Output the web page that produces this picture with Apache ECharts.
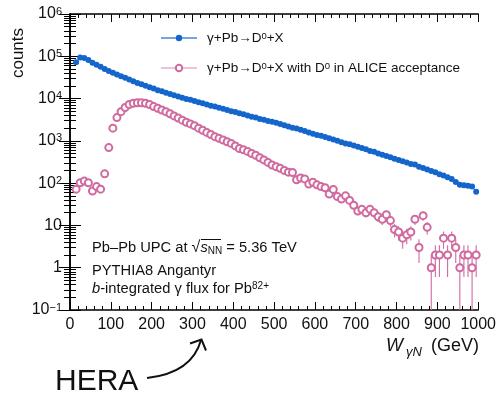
<!DOCTYPE html>
<html>
<head>
<meta charset="utf-8">
<script src="https://cdn.jsdelivr.net/npm/echarts@6/dist/echarts.min.js"></script>
<style>
html, body { margin: 0; padding: 0; background: #fff; }
#chart { width: 499px; height: 394px; }
</style>
</head>
<body>
<div id="chart"></div>
<script>
// W_gammaN bin centres (GeV), 10 GeV bins
const wCenters = [15, 25, 35, 45, 55, 65, 75, 85, 95, 105, 115, 125, 135, 145, 155, 165, 175, 185, 195,
  205, 215, 225, 235, 245, 255, 265, 275, 285, 295, 305, 315, 325, 335, 345, 355, 365, 375, 385, 395,
  405, 415, 425, 435, 445, 455, 465, 475, 485, 495, 505, 515, 525, 535, 545, 555, 565, 575, 585, 595,
  605, 615, 625, 635, 645, 655, 665, 675, 685, 695, 705, 715, 725, 735, 745, 755, 765, 775, 785, 795,
  805, 815, 825, 835, 845, 855, 865, 875, 885, 895, 905, 915, 925, 935, 945, 955, 965, 975, 985, 995];

// gamma+Pb -> D0+X, all D0
const blueCounts = [72400, 93300, 91200, 81300, 70800, 63100, 56200, 50100, 44700, 40700, 37200, 33900,
  30900, 28200, 25700, 23400, 21900, 20000, 18600, 17400, 15800, 14800, 13800, 12900, 12000, 11200,
  10500, 9770, 9330, 8710, 8130, 7760, 7240, 6760, 6460, 6030, 5750, 5370, 5010, 4790, 4470, 4270,
  3980, 3720, 3550, 3310, 3160, 2950, 2820, 2690, 2510, 2340, 2190, 2040, 1950, 1820, 1700, 1580,
  1480, 1380, 1320, 1230, 1150, 1070, 1000, 933, 871, 832, 776, 724, 676, 631, 575, 550, 501, 468,
  437, 407, 380, 355, 331, 309, 282, 275, 245, 229, 209, 195, 182, 162, 151, 138, 126, 107, 91, 89,
  87, 83, 63];

// gamma+Pb -> D0+X with the D0 inside the ALICE acceptance
const pinkCounts = [72, 102, 112, 102, 65, 83, 72, 166, 692, 1995, 3548, 4898, 6166, 7244, 7762, 7943,
  7943, 7762, 7244, 6457, 5888, 5370, 4898, 4365, 3890, 3467, 3090, 2754, 2512, 2291, 1995, 1778,
  1585, 1413, 1259, 1148, 1047, 955, 871, 759, 661, 617, 562, 501, 457, 398, 355, 309, 269, 245, 224,
  200, 182, 178, 120, 132, 126, 95, 105, 91, 83, 78, 55, 71, 48, 42, 50, 39, 30, 22, 24, 20, 24, 20,
  16, 14, 18, 13, 8, 7, 5, 6, 7, 14, 3, 17, 9, 1, 2, 2, 5, 2, 5, 3, 1, 2, 2, 1, 2];

// statistical uncertainty of each acceptance bin
const pinkErr = [8.5, 10.1, 10.6, 10.1, 8.1, 9.1, 8.5, 12.9, 26.3, 44.7, 59.6, 70.0, 78.5, 85.1, 88.1,
  89.1, 89.1, 88.1, 85.1, 80.4, 76.7, 73.3, 70.0, 66.1, 62.4, 58.9, 55.6, 52.5, 50.1, 47.9, 44.7, 42.2,
  39.8, 37.6, 35.5, 33.9, 32.4, 30.9, 29.5, 27.5, 25.7, 24.8, 23.7, 22.4, 21.4, 19.9, 18.8, 17.6, 16.4,
  15.7, 15.0, 14.1, 13.5, 13.3, 11.0, 11.5, 11.2, 9.7, 10.2, 9.5, 9.1, 8.8, 7.4, 8.4, 6.9, 6.5, 7.1,
  6.2, 5.5, 4.7, 4.9, 4.5, 4.9, 4.5, 4.0, 3.7, 4.2, 3.6, 2.8, 2.6, 2.2, 2.4, 2.6, 3.7, 1.7, 4.1, 3.0,
  1.0, 1.4, 1.4, 2.2, 1.4, 2.2, 1.7, 1.0, 1.4, 1.4, 1.0, 1.4];

const xTicks = { min: 0, max: 1000, step: 100, minorStep: 20 };
const yRange = { min: 0.1, max: 1e6 };

const NAME_ALL = 'γ+Pb→D⁰+X';
const NAME_ACC = 'γ+Pb→D⁰+X with D⁰ in ALICE acceptance';

const FONT = '"Liberation Sans", Arial, Helvetica, sans-serif';
const BLUE = '#1466cc';
const BLUE_LINE = '#70a8dc';
const PINK = '#d06a9f';
const PINK_LINE = '#d98ab6';

const bluePts = wCenters.map((w, i) => [w, blueCounts[i]]);
const pinkPts = wCenters.map((w, i) => [w, pinkCounts[i]]);
const pinkBars = wCenters.map((w, i) => [w, pinkCounts[i], pinkErr[i]]);

// log-axis minor tick values: 2..9 x 10^k
const minorYValues = [];
for (let k = -1; k < 6; k++) {
  for (let m = 2; m < 10; m++) minorYValues.push(m * Math.pow(10, k));
}

function renderErrorBar(params, api) {
  const x = api.value(0), v = api.value(1), e = api.value(2);
  const c = api.coord([x, v]);
  const top = api.coord([x, yRange.max])[1];
  const bot = api.coord([x, yRange.min])[1];
  const yHi = Math.max(api.coord([x, v + e])[1], top);
  const yLo = v - e > 0 ? Math.min(api.coord([x, v - e])[1], bot) : bot;
  const r = 3.4;
  const children = [];
  const st = { stroke: PINK, lineWidth: 1.1 };
  if (yHi < c[1] - r) children.push({ type: 'line', shape: { x1: c[0], y1: yHi, x2: c[0], y2: c[1] - r }, style: st });
  if (yLo > c[1] + r) children.push({ type: 'line', shape: { x1: c[0], y1: c[1] + r, x2: c[0], y2: yLo }, style: st });
  return { type: 'group', children };
}

function yLabel(v) {
  const e = Math.round(Math.log10(v));
  if (e === 0) return '{b|1}';
  if (e === 1) return '{b|10}';
  return '{b|10}{e|' + (e < 0 ? '−' + (-e) : e) + '}';
}

const axisLineStyle = { color: '#000', width: 1.5 };
const tickStyle = { color: '#000', width: 1 };

// frame axes: major ticks on all four sides
function xFrame(position, withLabels) {
  return {
    type: 'value', position: position, min: xTicks.min, max: xTicks.max, interval: xTicks.step,
    axisLine: { show: true, lineStyle: axisLineStyle },
    axisTick: { inside: true, length: 8, lineStyle: tickStyle },
    splitLine: { show: false },
    axisLabel: withLabels
      ? { color: '#111', fontFamily: FONT, fontSize: 16, margin: 7, formatter: v => String(v) }
      : { show: false }
  };
}
// minor-tick axes laid over the frame
function xMinor(position) {
  return {
    type: 'value', position: position, min: xTicks.min, max: xTicks.max, interval: xTicks.minorStep,
    axisLine: { show: false },
    axisTick: { show: true, inside: true, length: 4, lineStyle: tickStyle },
    splitLine: { show: false },
    axisLabel: { show: false }
  };
}
function yMinor(position) {
  return {
    type: 'log', logBase: 10, min: yRange.min, max: yRange.max, position: position,
    axisLine: { show: false },
    axisTick: { show: true, inside: true, length: 6, lineStyle: tickStyle, customValues: minorYValues },
    splitLine: { show: false },
    axisLabel: { show: false }
  };
}

const chart = echarts.init(document.getElementById('chart'));
chart.setOption({
  animation: false,
  backgroundColor: '#fff',
  grid: { left: 70, right: 20, top: 14, bottom: 84 },
  legend: {
    orient: 'vertical',
    left: 155,
    top: 26,
    itemWidth: 36,
    itemHeight: 8,
    itemGap: 12,
    selectedMode: false,
    data: [
      { name: NAME_ALL },
      { name: NAME_ACC, lineStyle: { opacity: 1, width: 1.2, color: PINK_LINE } }
    ],
    formatter: function (n) {
      return n === NAME_ALL
        ? '{t|γ+Pb→D}{s|0}{t|+X}'
        : '{t|γ+Pb→D}{s|0}{t|+X with D}{s|0}{t| in ALICE acceptance}';
    },
    textStyle: {
      padding: [0, 0, 0, 5],
      rich: {
        t: { fontFamily: FONT, fontSize: 13.5, color: '#111', lineHeight: 14, verticalAlign: 'bottom' },
        s: { fontFamily: FONT, fontSize: 9.5, color: '#111', lineHeight: 10, verticalAlign: 'top', padding: [0, 0, 8, 0] }
      }
    }
  },
  xAxis: [xFrame('bottom', true), xFrame('top', false), xMinor('bottom'), xMinor('top')],
  yAxis: [
    {
      type: 'log', logBase: 10, min: yRange.min, max: yRange.max, position: 'left',
      axisLine: { show: true, lineStyle: axisLineStyle },
      axisTick: { show: true, inside: true, length: 11, lineStyle: tickStyle },
      splitLine: { show: false },
      axisLabel: {
        formatter: yLabel, margin: 8,
        rich: {
          b: { fontFamily: FONT, fontSize: 16, color: '#111', lineHeight: 16, verticalAlign: 'bottom' },
          e: { fontFamily: FONT, fontSize: 11, color: '#111', lineHeight: 11, verticalAlign: 'top', padding: [0, 0, 12, 0] }
        }
      }
    },
    {
      type: 'log', logBase: 10, min: yRange.min, max: yRange.max, position: 'right',
      axisLine: { show: true, lineStyle: axisLineStyle },
      axisTick: { show: true, inside: true, length: 11, lineStyle: tickStyle },
      splitLine: { show: false },
      axisLabel: { show: false }
    },
    yMinor('left'),
    yMinor('right')
  ],
  series: [
    {
      type: 'custom', name: 'acceptance errors', silent: true,
      renderItem: renderErrorBar, data: pinkBars, encode: { x: 0, y: 1 }, z: 2
    },
    {
      type: 'line', name: NAME_ACC, data: pinkPts,
      symbol: 'emptyCircle', symbolSize: 7, showAllSymbol: true,
      itemStyle: { color: PINK, borderColor: PINK, borderWidth: 1 },
      lineStyle: { opacity: 0, width: 1.2, color: PINK_LINE },
      z: 3
    },
    {
      type: 'line', name: NAME_ALL, data: bluePts,
      symbol: 'circle', symbolSize: 6, showAllSymbol: true,
      itemStyle: { color: BLUE },
      lineStyle: { width: 1.2, color: BLUE_LINE },
      z: 4
    }
  ],
  graphic: [
    {
      type: 'text', x: 18, y: 53, rotation: Math.PI / 2,
      style: { text: 'counts', fontFamily: FONT, fontSize: 17, fill: '#111', align: 'center', verticalAlign: 'middle' }
    },
    {
      type: 'text', x: 479, y: 346,
      style: {
        text: '{i|W}{sub|γN}{n| (GeV)}', align: 'right', verticalAlign: 'middle',
        rich: {
          i: { fontFamily: FONT, fontSize: 18, fontStyle: 'italic', fill: '#111', lineHeight: 18, verticalAlign: 'top' },
          sub: { fontFamily: FONT, fontSize: 13, fontStyle: 'italic', fill: '#111', lineHeight: 13, verticalAlign: 'top', padding: [9, 4, 0, 3] },
          n: { fontFamily: FONT, fontSize: 18, fill: '#111', lineHeight: 18, verticalAlign: 'top' }
        }
      }
    },
    {
      type: 'text', x: 92, y: 248,
      style: {
        text: '{n|Pb–Pb UPC at }{r|√}{i|s}{sub|NN}{n| = 5.36 TeV}', verticalAlign: 'middle',
        rich: {
          n: { fontFamily: FONT, fontSize: 14.7, fill: '#111', lineHeight: 15, verticalAlign: 'top' },
          r: { fontFamily: FONT, fontSize: 16, fill: '#111', lineHeight: 16, verticalAlign: 'top' },
          i: { fontFamily: FONT, fontSize: 14.7, fontStyle: 'italic', fill: '#111', lineHeight: 15, verticalAlign: 'top' },
          sub: { fontFamily: FONT, fontSize: 10, fill: '#111', lineHeight: 10, verticalAlign: 'top', padding: [6, 0, 0, 0] }
        }
      }
    },
    {
      type: 'line', shape: { x1: 201, y1: 239.5, x2: 221, y2: 239.5 },
      style: { stroke: '#111', lineWidth: 1 }
    },
    {
      type: 'text', x: 92, y: 271,
      style: { text: 'PYTHIA8 Angantyr', fontFamily: FONT, fontSize: 14.7, fill: '#111', verticalAlign: 'middle' }
    },
    {
      type: 'text', x: 92, y: 289,
      style: {
        text: '{i|b}{n|-integrated γ flux for Pb}{sup|82+}', verticalAlign: 'middle',
        rich: {
          i: { fontFamily: FONT, fontSize: 14.7, fontStyle: 'italic', fill: '#111', lineHeight: 15, verticalAlign: 'bottom' },
          n: { fontFamily: FONT, fontSize: 14.7, fill: '#111', lineHeight: 15, verticalAlign: 'bottom' },
          sup: { fontFamily: FONT, fontSize: 10, fill: '#111', lineHeight: 10, verticalAlign: 'top', padding: [0, 0, 7, 0] }
        }
      }
    },
    {
      type: 'text', x: 55, y: 382,
      style: { text: 'HERA', fontFamily: FONT, fontSize: 30, fill: '#111', verticalAlign: 'middle' }
    },
    {
      type: 'bezierCurve',
      shape: { x1: 147, y1: 378, cpx1: 192, cpy1: 373, x2: 201, y2: 340 },
      style: { stroke: '#111', lineWidth: 2, fill: 'none' }
    },
    {
      type: 'polyline',
      shape: { points: [[190, 343.5], [201.5, 339.5], [206, 350.5]] },
      style: { stroke: '#111', lineWidth: 2, fill: 'none' }
    }
  ]
});
</script>
</body>
</html>
